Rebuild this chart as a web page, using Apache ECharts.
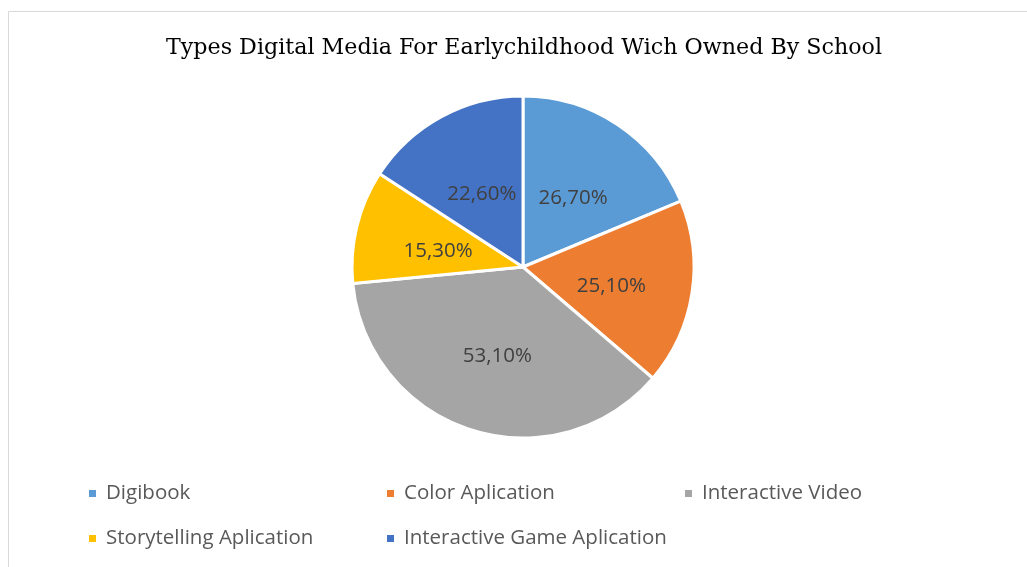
<!DOCTYPE html>
<html>
<head>
<meta charset="utf-8">
<script src="https://cdn.jsdelivr.net/npm/echarts@6/dist/echarts.min.js"></script>
<style>html,body{margin:0;padding:0;background:#fff;}#c{width:1027px;height:567px;}</style>
</head>
<body>
<div id="c"></div>
<script>
const categories = ["Digibook", "Color Aplication", "Interactive Video", "Storytelling Aplication", "Interactive Game Aplication"];
const values = [26.7, 25.1, 53.1, 15.3, 22.6];
const colors = ["#5B9BD5", "#ED7D31", "#A5A5A5", "#FFC000", "#4472C4"];
const legendPos = [[87, 483], [385, 483], [683, 483], [87, 528], [385, 528]];

const chart = echarts.init(document.getElementById('c'));
const legends = categories.map((name, i) => ({
  data: [name],
  left: legendPos[i][0],
  top: legendPos[i][1],
  icon: 'rect',
  itemWidth: 9,
  itemHeight: 9,
  itemGap: 0,
  padding: 0,
  selectedMode: false,
  textStyle: {color: '#595959', fontSize: 20.5, fontFamily: 'Open Sans', padding: [0, 0, 0, 4]}
}));
chart.setOption({
  animation: false,
  title: {
    text: 'Types Digital Media For Earlychildhood Wich Owned By School',
    left: 161,
    top: 32,
    textStyle: {fontFamily: 'DejaVu Serif', fontWeight: 'normal', fontSize: 22.2, color: '#000'}
  },
  graphic: [{
    type: 'rect',
    shape: {x: 8.5, y: 11.5, width: 1100, height: 600},
    style: {fill: 'none', stroke: '#D9D9D9', lineWidth: 1}
  }],
  legend: legends,
  series: [{
    type: 'pie',
    center: [523, 267],
    radius: [0, 171],
    startAngle: 90,
    clockwise: true,
    data: categories.map((n, i) => ({name: n, value: values[i], itemStyle: {color: colors[i]}})),
    itemStyle: {borderColor: '#fff', borderWidth: 3},
    label: {
      position: 'inside',
      formatter: p => p.value.toFixed(2).replace('.', ',') + '%',
      color: '#404040',
      fontSize: 20.5,
      fontFamily: 'Open Sans',
      offset: [1, 5]
    },
    labelLine: {show: false},
    emphasis: {disabled: true}
  }]
});
</script>
</body>
</html>
